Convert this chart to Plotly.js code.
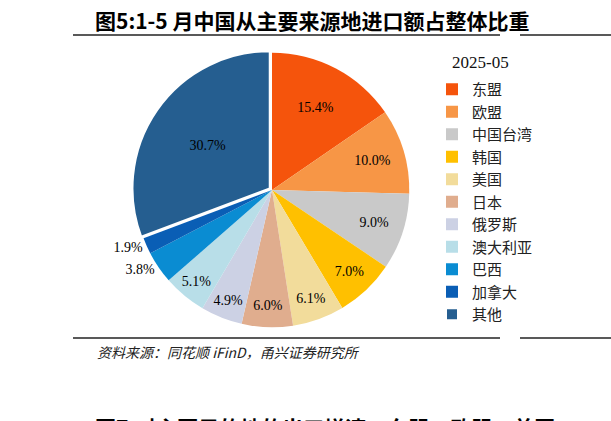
<!DOCTYPE html>
<html><head><meta charset="utf-8">
<script src="https://cdn.plot.ly/plotly-3.0.1.min.js"></script>
<style>html,body{margin:0;padding:0;background:#fff;}#c{width:611px;height:421px;}</style>
</head><body><div id="c"></div>
<script>
const regions = ['东盟','欧盟','中国台湾','韩国','美国','日本','俄罗斯','澳大利亚','巴西','加拿大','其他'];
const shares = [15.4,10.0,9.0,7.0,6.1,6.0,4.9,5.1,3.8,1.9,30.7];
const sliceColors = ['#F5540C','#F79646','#C9C9C9','#FFC000','#F2DC9B','#E0AD8E','#CCD1E4','#B8DEE8','#0A8CD2','#0A5EB5','#255E90'];
const pulls = [0,0,0,0,0,0,0,0,0,0,0.02];
const textPos = ['inside','inside','inside','inside','inside','inside','inside','inside','outside','outside','inside'];
const legendTitle = '2025-05';
const chartTitle = '图5:1-5 月中国从主要来源地进口额占整体比重';
const sourceNote = '资料来源：同花顺 iFinD，甬兴证券研究所';
const nextTitle = '图7:对主要目的地的出口增速：东盟、欧盟、美国';

const W = 611, H = 421;
const px = v => v / W, py = v => (H - v) / H;

const trace = {
  type: 'pie',
  labels: regions,
  values: shares,
  sort: false,
  direction: 'clockwise',
  rotation: 0,
  pull: pulls,
  marker: {colors: sliceColors, line: {color: '#ffffff', width: [0,0,0,0,0,0,0,0,0,0,2]}},
  texttemplate: '%{value:.1f}%',
  textposition: textPos,
  insidetextorientation: 'horizontal',
  textfont: {family: 'Liberation Serif', size: 14, color: '#000'},
  outsidetextfont: {family: 'Liberation Serif', size: 14, color: '#000'},
  hoverinfo: 'none',
  domain: {x: [px(132), px(412)], y: [py(330), py(50)]}
};

const layout = {
  width: W, height: H,
  margin: {l: 0, r: 0, t: 0, b: 0},
  paper_bgcolor: '#fff',
  showlegend: true,
  legend: {
    x: px(432), y: py(73), xanchor: 'left', yanchor: 'top',
    font: {family: 'Noto Sans CJK SC', size: 15, color: '#222'},
    itemwidth: 30, traceorder: 'normal'
  },
  shapes: [
    {type: 'line', xref: 'paper', yref: 'paper', x0: px(73), x1: px(500), y0: py(35), y1: py(35), line: {color: '#222', width: 1.5}},
    {type: 'line', xref: 'paper', yref: 'paper', x0: px(520), x1: 1, y0: py(35), y1: py(35), line: {color: '#222', width: 1.5}},
    {type: 'line', xref: 'paper', yref: 'paper', x0: px(73), x1: px(500), y0: py(338), y1: py(338), line: {color: '#222', width: 1.5}},
    {type: 'line', xref: 'paper', yref: 'paper', x0: px(520), x1: 1, y0: py(338), y1: py(338), line: {color: '#222', width: 1.5}}
  ],
  annotations: [
    {text: legendTitle, xref: 'paper', yref: 'paper', x: px(450), y: py(62), xanchor: 'left', yanchor: 'middle', showarrow: false,
     font: {family: 'Liberation Serif', size: 17, color: '#111'}},
    {text: '<b>' + chartTitle + '</b>', xref: 'paper', yref: 'paper', x: px(93), y: py(20), xanchor: 'left', yanchor: 'middle', showarrow: false,
     font: {family: 'Noto Sans CJK SC', size: 21, color: '#000'}},
    {text: '<i>' + sourceNote + '</i>', xref: 'paper', yref: 'paper', x: px(95), y: py(352), xanchor: 'left', yanchor: 'middle', showarrow: false,
     font: {family: 'Noto Sans CJK SC', size: 14, color: '#222'}},
    {text: '<b>' + nextTitle + '</b>', xref: 'paper', yref: 'paper', x: px(93), y: py(410), xanchor: 'left', yanchor: 'top', showarrow: false,
     font: {family: 'Noto Sans CJK SC', size: 21, color: '#000'}}
  ]
};

Plotly.newPlot('c', [trace], layout, {displayModeBar: false, staticPlot: true});
</script></body></html>
